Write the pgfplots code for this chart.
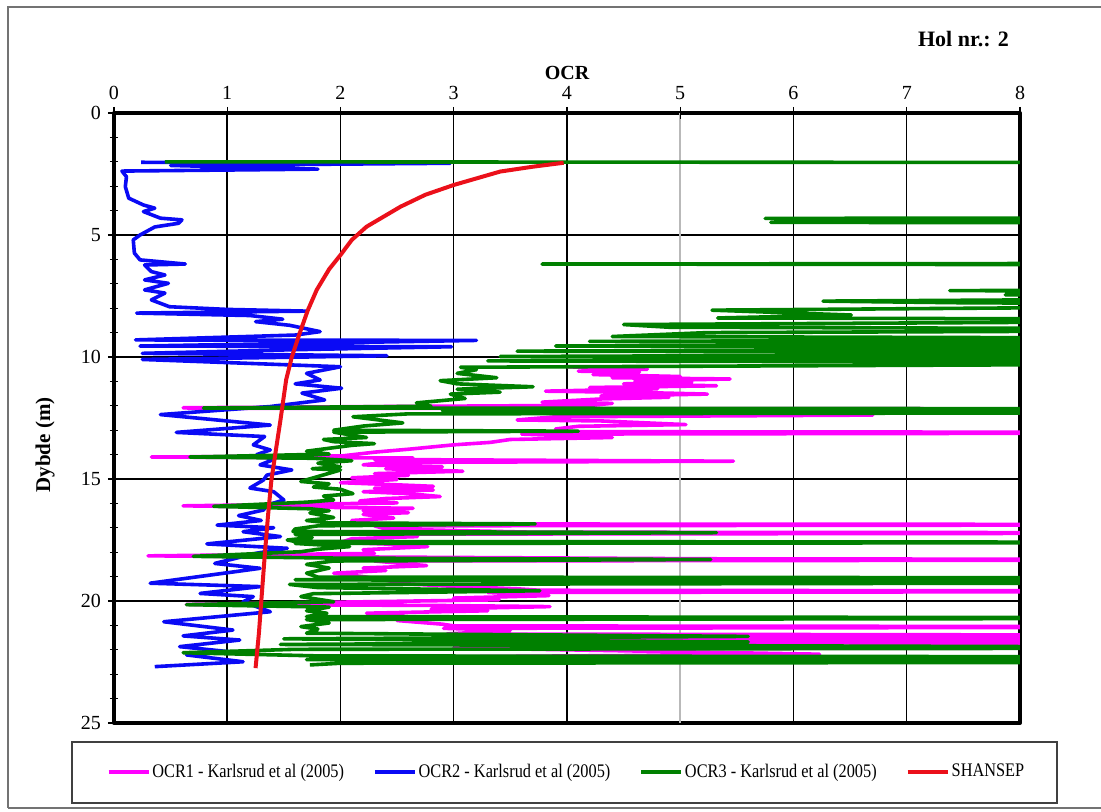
\documentclass[border=0pt]{standalone}
\usepackage{fontspec}
\setmainfont{Liberation Serif}
\newfontfamily\legfont{Liberation Serif}[FakeStretch=0.85]
\usepackage{pgfplots}
\pgfplotsset{compat=1.18}
\definecolor{cMag}{RGB}{255,0,255}
\definecolor{cBlue}{RGB}{10,10,245}
\definecolor{cGreen}{RGB}{0,128,0}
\definecolor{cRed}{RGB}{235,16,26}
\begin{document}
\begin{tikzpicture}
\path[use as bounding box] (-57pt,-44.5pt) rectangle (493.5pt,361.5pt);
\begin{axis}[
  scale only axis, width=453pt, height=305pt,
  at={(0pt,0pt)}, anchor=south west,
  xmin=0, xmax=8, ymin=0, ymax=25, y dir=reverse,
  xtick={0,1,2,3,4,6,7,8},
  extra x ticks={5},
  extra x tick style={major grid style={gray!55, line width=0.8pt}},
  ytick={0,5,10,15,20,25},
  minor y tick num=4,
  xtick pos=right, xticklabel pos=right, ytick pos=left,
  tick align=center,
  major tick length=6pt, minor tick length=4pt,
  every tick/.style={black, line width=0.6pt},
  grid=major,
  major grid style={black, line width=0.75pt},
  axis line style={line width=2pt},
  /pgf/number format/assume math mode=true,
  tick label style={font=\fontsize{10}{12}\selectfont},
  legend columns=4,
  legend style={at={(-0.008,-0.0803)}, anchor=west, draw=none, fill=none,
    inner sep=0pt, outer sep=0pt,
    font=\legfont\fontsize{9.6}{11}\selectfont,
    nodes={inner xsep=1pt, inner ysep=0pt},
    /tikz/every even column/.append style={column sep=13.5pt}},
  legend image code/.code={\draw[#1] (0pt,0pt) -- (20pt,0pt);},
  line join=round,
]
\addplot[cMag, line width=1.8pt] coordinates {
(4.0,10.4) (4.71,10.5) (4.1,10.58) (4.64,10.62) (4.23,10.72) (5.0,10.8) (4.4,10.85) (5.44,10.9) (4.6,10.98) (5.1,11.05) (4.5,11.1) (5.32,11.18) (4.2,11.25) (4.8,11.3) (3.81,11.4) (4.6,11.45) (5.24,11.52) (4.3,11.6) (4.9,11.65) (4.3,11.72) (3.78,11.85) (4.4,11.9) (4.2,11.98) (0.61,12.08) (0.7,12.1) (12,12.14) (4.0,12.2) (3.8,12.3) (6.7,12.38) (3.9,12.45) (3.56,12.58) (4.3,12.62) (5.05,12.77) (4.1,12.84) (3.9,12.95) (4.0,13.06) (12,13.1) (3.6,13.16) (4.4,13.3) (3.5,13.38) (3.32,13.5) (3.0,13.6) (2.6,13.78) (2.3,13.9) (2.02,14.05) (0.33,14.1) (2.64,14.14) (2.3,14.2) (5.47,14.27) (2.4,14.32) (2.2,14.42) (2.9,14.5) (2.4,14.58) (3.08,14.68) (2.3,14.78) (2.6,14.85) (2.1,14.95) (2.5,15.02) (2.0,15.15) (2.4,15.22) (2.82,15.3) (2.3,15.38) (2.82,15.45) (2.2,15.52) (2.6,15.6) (2.88,15.72) (2.4,15.8) (2.17,15.9) (2.5,15.98) (0.61,16.1) (2.64,16.2) (2.2,16.3) (2.6,16.38) (2.2,16.45) (2.47,16.6) (2.1,16.7) (2.2,16.8) (2.3,16.84) (12,16.87) (2.3,16.92) (2.4,17.05) (3.7,17.18) (12,17.21) (2.3,17.26) (2.68,17.36) (2.1,17.45) (2.0,17.6) (2.5,17.68) (2.77,17.77) (2.2,17.9) (2.3,18.05) (0.30,18.15) (2.4,18.2) (5.27,18.27) (12,18.31) (2.3,18.36) (2.76,18.55) (2.2,18.65) (2.4,18.75) (1.94,18.86) (2.2,19.0) (2.6,19.3) (3.0,19.4) (3.56,19.5) (3.76,19.56) (12,19.6) (3.3,19.65) (3.84,19.78) (3.0,19.88) (3.4,19.95) (0.64,20.14) (2.8,20.18) (3.85,20.23) (2.8,20.33) (3.3,20.4) (2.23,20.5) (2.6,20.65) (2.5,20.8) (2.9,20.95) (3.0,21.02) (12,21.06) (2.91,21.12) (3.5,21.2) (2.94,21.35) (12,21.42) (3.0,21.48) (12,21.53) (2.94,21.58) (12,21.63) (3.1,21.7) (12,21.75) (12,21.85) (3.0,21.92) (6.23,22.18) (2.5,22.3)
};
\addlegendentry{OCR1 - Karlsrud et al (2005)}
\addplot[cBlue, line width=1.8pt] coordinates {
(0.24,2.02) (2.97,2.06) (0.5,2.15) (1.8,2.3) (0.07,2.38) (0.11,2.61) (0.10,3.02) (0.13,3.49) (0.26,3.77) (0.36,3.9) (0.26,4.04) (0.41,4.31) (0.6,4.38) (0.57,4.52) (0.36,4.67) (0.23,5.0) (0.17,5.2) (0.18,5.74) (0.23,6.02) (0.63,6.19) (0.27,6.23) (0.33,6.5) (0.45,6.64) (0.27,6.84) (0.48,6.98) (0.27,7.25) (0.45,7.38) (0.33,7.66) (0.49,7.94) (1.0,8.05) (1.70,8.12) (0.2,8.2) (1.2,8.3) (1.49,8.45) (1.25,8.55) (1.55,8.7) (1.82,8.96) (1.6,9.1) (0.19,9.3) (3.2,9.32) (0.23,9.55) (2.98,9.58) (1.6,9.7) (0.25,9.85) (2.41,9.95) (0.25,10.1) (2.0,10.4) (1.70,10.67) (1.82,10.94) (1.6,11.1) (2.01,11.28) (1.66,11.48) (1.86,11.76) (1.38,12.03) (0.41,12.36) (1.38,12.79) (0.55,13.09) (1.33,13.26) (1.23,13.6) (1.38,13.81) (1.26,14.0) (1.41,14.2) (1.29,14.42) (1.57,14.63) (1.35,14.84) (1.32,15.04) (1.2,15.37) (1.41,15.52) (1.5,15.86) (1.35,16.07) (1.32,16.27) (1.1,16.5) (1.3,16.7) (0.91,16.89) (1.41,17.0) (1.14,17.16) (1.47,17.36) (0.82,17.66) (1.53,17.84) (1.26,18.04) (0.89,18.46) (1.29,18.66) (0.32,19.27) (1.29,19.41) (0.76,19.69) (1.23,19.82) (1.14,20.03) (1.38,20.44) (0.44,20.85) (1.05,21.19) (0.61,21.43) (1.11,21.6) (0.58,21.87) (1.02,22.08) (0.64,22.21) (1.14,22.49) (0.36,22.69)
};
\addlegendentry{OCR2 - Karlsrud et al (2005)}
\addplot[cGreen, line width=1.8pt] coordinates {
(0.45,2.0) (12,2.04) (12,4.28) (5.75,4.32) (12,4.36) (5.8,4.48) (12,4.52) (12,6.15) (3.78,6.19) (12,6.23) (12,7.22) (7.38,7.28) (12,7.32) (7.87,7.45) (12,7.55) (6.26,7.71) (7.54,7.78) (12,7.85) (5.28,8.08) (6.51,8.28) (5.33,8.4) (12,8.48) (4.5,8.67) (4.9,8.78) (12,8.88) (5.24,9.0) (4.4,9.16) (12,9.26) (4.2,9.36) (12,9.45) (3.9,9.55) (12,9.62) (3.56,9.76) (12,9.84) (3.41,9.98) (12,10.06) (3.3,10.16) (12,10.24) (3.06,10.42) (3.2,10.52) (3.03,10.67) (3.38,10.85) (2.88,10.97) (3.03,11.1) (3.7,11.22) (3.03,11.32) (3.41,11.44) (2.97,11.52) (3.1,11.7) (2.67,11.88) (2.8,12.02) (0.79,12.09) (12,12.13) (2.9,12.2) (12,12.27) (2.6,12.33) (2.11,12.45) (2.55,12.7) (2.2,12.83) (1.94,13.0) (4.1,13.04) (1.94,13.08) (2.23,13.3) (1.85,13.38) (1.94,13.47) (2.3,13.55) (2.1,13.62) (1.70,13.86) (1.9,13.98) (0.67,14.1) (1.76,14.15) (2.1,14.25) (1.8,14.35) (2.0,14.5) (1.75,14.58) (2.0,14.63) (1.8,14.9) (1.65,15.1) (1.9,15.2) (1.76,15.33) (2.0,15.42) (2.11,15.6) (1.85,15.7) (1.94,15.86) (1.7,15.95) (0.88,16.12) (1.73,16.22) (1.9,16.3) (1.73,16.39) (1.94,16.58) (1.7,16.7) (1.9,16.8) (3.72,16.84) (1.8,16.92) (1.6,17.05) (1.58,17.15) (5.32,17.2) (1.6,17.27) (1.75,17.4) (1.53,17.5) (1.6,17.56) (12,17.6) (1.6,17.64) (2.08,17.77) (1.8,17.88) (1.65,17.98) (0.7,18.17) (1.94,18.24) (5.27,18.3) (1.94,18.36) (1.7,18.5) (1.9,18.65) (1.7,18.86) (1.8,19.02) (12,19.06) (1.6,19.13) (12,19.24) (1.55,19.32) (1.8,19.45) (3.76,19.58) (1.76,19.7) (1.65,19.82) (1.94,20.03) (0.64,20.15) (1.9,20.25) (1.7,20.4) (1.88,20.5) (1.7,20.64) (12,20.7) (1.7,20.76) (1.9,20.9) (1.65,21.05) (1.8,21.15) (1.7,21.32) (5.6,21.45) (1.5,21.55) (5.6,21.68) (1.47,21.78) (12,21.92) (1.6,21.98) (0.61,22.12) (1.8,22.25) (12,22.3) (1.7,22.4) (12,22.5) (2.0,22.55) (1.73,22.62)
};
\addlegendentry{OCR3 - Karlsrud et al (2005)}
\addplot[cRed, line width=2pt] coordinates {
(3.97,2.04) (3.7,2.2) (3.41,2.4) (3.0,2.95) (2.75,3.35) (2.53,3.84) (2.23,4.66) (2.1,5.2) (2.0,5.82) (1.9,6.4) (1.79,7.25) (1.71,8.1) (1.64,9.02) (1.57,10.0) (1.52,10.94) (1.47,12.58) (1.43,13.8) (1.39,15.04) (1.36,16.5) (1.33,18.2) (1.30,20.04) (1.28,21.3) (1.25,22.75)
};
\addlegendentry{SHANSEP}
\end{axis}
\draw[black!55, line width=0.9pt] (-53pt,-42.5pt) -- (-53pt,358pt) -- (493.5pt,358pt);
\draw[black!55, line width=0.9pt] (-53pt,-42.5pt) -- (493.5pt,-42.5pt);
\draw[black!75, line width=0.6pt] (-21pt,-9.5pt) rectangle (471.5pt,-40pt);
\node[font=\bfseries\fontsize{10}{12}\selectfont] at (226.5pt,325pt) {OCR};
\node[font=\bfseries\fontsize{11}{13}\selectfont, anchor=east] at (451pt,342pt) {Hol nr.: 2};
\node[font=\bfseries\fontsize{10.5}{12}\selectfont, rotate=90] at (-34.5pt,139pt) {Dybde (m)};
\end{tikzpicture}
\end{document}
